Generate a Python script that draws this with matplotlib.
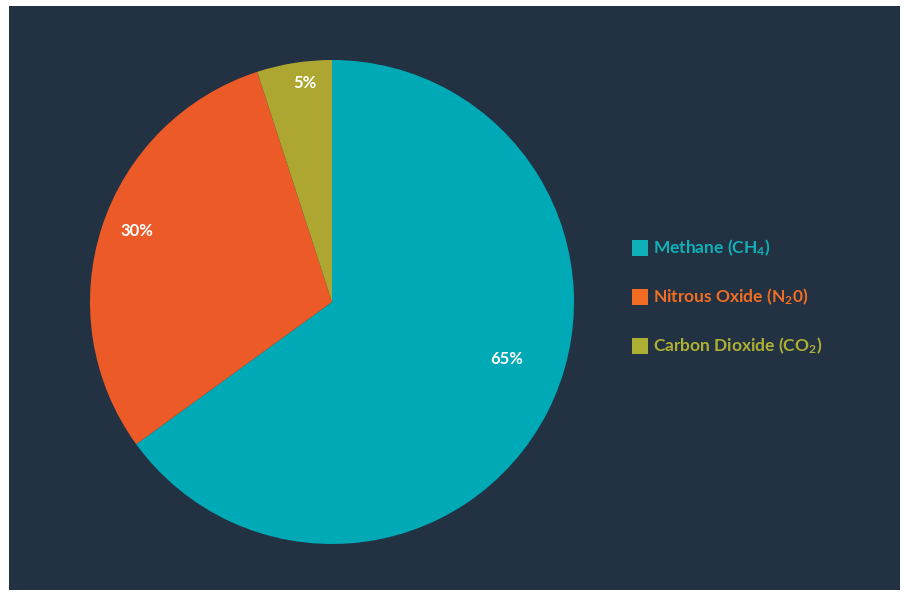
import numpy as np
import matplotlib.pyplot as plt
from matplotlib.patches import Rectangle

# Data
gases = ["Methane (CH$_4$)", "Nitrous Oxide (N$_2$0)", "Carbon Dioxide (CO$_2$)"]
shares = [65, 30, 5]
slice_colors = ["#00A9B6", "#EC5A27", "#ADA731"]
legend_colors = ["#0FB0B8", "#F26D21", "#AEB033"]
# where each percentage sits: (fraction of radius, angle in degrees)
label_spots = [(0.76, -18), (0.86, 160), (0.91, 97)]

plt.rcParams["font.family"] = "Lato"
plt.rcParams["mathtext.fontset"] = "custom"
plt.rcParams["mathtext.rm"] = "Lato:bold"
plt.rcParams["mathtext.default"] = "rm"

W, H = 907, 593
fig = plt.figure(figsize=(W / 100, H / 100), dpi=100)
fig.patch.set_facecolor("white")

# dark panel
fig.patches.append(Rectangle((9 / W, 1 - 590 / H), (900 - 9) / W, (590 - 6) / H,
                             transform=fig.transFigure, facecolor="#223243",
                             edgecolor="none", zorder=-5))

ax = fig.add_axes([90 / W, 49 / H, 484 / W, 484 / H], zorder=2)
ax.set_facecolor("none")
wedges, _ = ax.pie(shares, colors=slice_colors, startangle=90, counterclock=False,
                   radius=1, wedgeprops={"linewidth": 0})
ax.set_xlim(-1, 1)
ax.set_ylim(-1, 1)
ax.set_aspect("equal")
ax.axis("off")

for val, (r, ang) in zip(shares, label_spots):
    ax.text(r * np.cos(np.radians(ang)), r * np.sin(np.radians(ang)), f"{val}%",
            color="white", fontsize=12, fontweight="bold", ha="center", va="center")

# legend
for i, (name, col) in enumerate(zip(gases, legend_colors)):
    y = 248 + i * 49
    fig.patches.append(Rectangle((632 / W, 1 - (y + 8) / H), 16 / W, 16 / H,
                                 transform=fig.transFigure, facecolor=col,
                                 edgecolor="none", zorder=3))
    fig.text(653 / W, 1 - y / H, name, color=col, fontsize=12.5,
             fontweight="bold", ha="left", va="center", zorder=3)

fig.savefig("out.png", dpi=100)
